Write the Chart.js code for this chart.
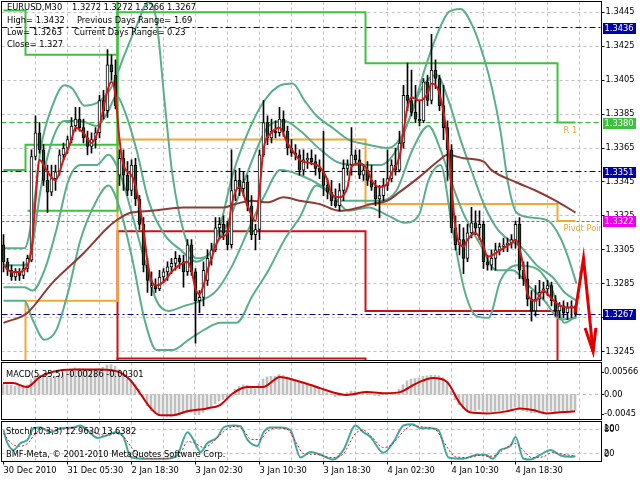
<!DOCTYPE html>
<html>
<head>
<meta charset="utf-8">
<script src="https://cdn.jsdelivr.net/npm/chart.js@4.4.0/dist/chart.umd.min.js"></script>
<style>
  html, body { margin: 0; padding: 0; background: #fff; }
  #wrap { position: relative; width: 640px; height: 480px; overflow: hidden; background: #fff; }
  #wrap canvas { position: absolute; left: 0; }
</style>
</head>
<body>
<div id="wrap">
  <canvas id="main" width="640" height="361" style="top:0px"></canvas>
  <canvas id="macd" width="640" height="58" style="top:362px"></canvas>
  <canvas id="stoch" width="640" height="59" style="top:421px"></canvas>
</div>
<script>
// EURUSD M30 candles (144 bars)
const barOpen = [
  1.3308,1.3298,1.3293,1.3289,1.3292,1.3290,1.3294,1.3299,1.3360,1.3374,
  1.3364,1.3346,1.3339,1.3347,1.3351,1.3361,1.3365,1.3370,1.3378,1.3382,
  1.3377,1.3371,1.3366,1.3370,1.3374,1.3393,1.3387,1.3414,1.3408,1.3349,
  1.3359,1.3349,1.3340,1.3355,1.3335,1.3320,1.3296,1.3283,1.3284,1.3282,
  1.3289,1.3292,1.3295,1.3297,1.3300,1.3298,1.3292,1.3308,1.3292,1.3275,
  1.3277,1.3287,1.3300,1.3305,1.3318,1.3320,1.3315,1.3308,1.3340,1.3346,
  1.3341,1.3345,1.3331,1.3314,1.3317,1.3361,1.3380,1.3371,1.3375,1.3374,
  1.3382,1.3375,1.3365,1.3362,1.3361,1.3352,1.3358,1.3359,1.3357,1.3353,
  1.3351,1.3343,1.3339,1.3334,1.3331,1.3340,1.3353,1.3355,1.3361,1.3358,
  1.3349,1.3352,1.3346,1.3342,1.3335,1.3337,1.3343,1.3347,1.3355,1.3352,
  1.3368,1.3396,1.3393,1.3386,1.3382,1.3381,1.3404,1.3393,1.3411,1.3406,
  1.3390,1.3377,1.3364,1.3318,1.3308,1.3311,1.3300,1.3315,1.3321,1.3318,
  1.3320,1.3298,1.3296,1.3300,1.3305,1.3307,1.3308,1.3309,1.3311,1.3320,
  1.3293,1.3288,1.3276,1.3269,1.3276,1.3280,1.3282,1.3284,1.3275,1.3269,
  1.3272,1.3268,1.3271,1.3272
];
const barHigh = [
  1.3314,1.3300,1.3296,1.3294,1.3294,1.3298,1.3302,1.3364,1.3384,1.3380,
  1.3367,1.3355,1.3355,1.3355,1.3364,1.3368,1.3372,1.3383,1.3389,1.3389,
  1.3382,1.3375,1.3374,1.3377,1.3396,1.3399,1.3423,1.3420,1.3417,1.3364,
  1.3364,1.3357,1.3358,1.3359,1.3337,1.3324,1.3300,1.3292,1.3288,1.3293,
  1.3294,1.3298,1.3300,1.3304,1.3302,1.3302,1.3311,1.3311,1.3294,1.3281,
  1.3298,1.3305,1.3309,1.3324,1.3324,1.3325,1.3322,1.3364,1.3352,1.3353,
  1.3351,1.3349,1.3337,1.3320,1.3364,1.3393,1.3384,1.3382,1.3381,1.3389,
  1.3387,1.3378,1.3370,1.3367,1.3364,1.3364,1.3362,1.3364,1.3361,1.3358,
  1.3375,1.3347,1.3346,1.3341,1.3344,1.3358,1.3358,1.3377,1.3364,1.3364,
  1.3355,1.3357,1.3355,1.3346,1.3343,1.3347,1.3364,1.3358,1.3365,1.3375,
  1.3402,1.3415,1.3411,1.3402,1.3393,1.3406,1.3408,1.3432,1.3417,1.3408,
  1.3402,1.3381,1.3367,1.3325,1.3320,1.3318,1.3320,1.3330,1.3328,1.3328,
  1.3322,1.3302,1.3305,1.3309,1.3309,1.3312,1.3312,1.3314,1.3322,1.3324,
  1.3298,1.3298,1.3281,1.3284,1.3287,1.3286,1.3287,1.3286,1.3278,1.3274,
  1.3275,1.3274,1.3275,1.3272
];
const barLow = [
  1.3292,1.3290,1.3287,1.3287,1.3287,1.3288,1.3292,1.3298,1.3358,1.3362,
  1.3343,1.3327,1.3337,1.3340,1.3349,1.3358,1.3362,1.3368,1.3375,1.3375,
  1.3368,1.3361,1.3362,1.3365,1.3371,1.3382,1.3383,1.3405,1.3388,1.3343,
  1.3340,1.3337,1.3337,1.3331,1.3317,1.3292,1.3280,1.3278,1.3280,1.3281,
  1.3286,1.3287,1.3291,1.3293,1.3294,1.3283,1.3290,1.3290,1.3250,1.3268,
  1.3272,1.3284,1.3296,1.3304,1.3312,1.3311,1.3305,1.3306,1.3334,1.3337,
  1.3337,1.3328,1.3311,1.3305,1.3311,1.3360,1.3367,1.3368,1.3371,1.3372,
  1.3372,1.3361,1.3360,1.3358,1.3349,1.3349,1.3353,1.3355,1.3349,1.3347,
  1.3337,1.3335,1.3331,1.3330,1.3328,1.3334,1.3349,1.3349,1.3355,1.3347,
  1.3346,1.3343,1.3340,1.3331,1.3324,1.3334,1.3340,1.3345,1.3349,1.3351,
  1.3365,1.3387,1.3384,1.3380,1.3378,1.3380,1.3390,1.3391,1.3400,1.3387,
  1.3370,1.3346,1.3315,1.3305,1.3302,1.3291,1.3298,1.3312,1.3314,1.3311,
  1.3294,1.3293,1.3293,1.3293,1.3302,1.3304,1.3304,1.3306,1.3306,1.3288,
  1.3284,1.3272,1.3263,1.3266,1.3272,1.3276,1.3278,1.3272,1.3266,1.3265,
  1.3265,1.3264,1.3265,1.3266
];
const barClose = [
  1.3298,1.3293,1.3289,1.3292,1.3290,1.3294,1.3300,1.3360,1.3374,1.3364,
  1.3346,1.3339,1.3347,1.3351,1.3361,1.3365,1.3370,1.3378,1.3382,1.3377,
  1.3371,1.3366,1.3370,1.3374,1.3393,1.3387,1.3414,1.3410,1.3390,1.3359,
  1.3349,1.3340,1.3355,1.3335,1.3320,1.3296,1.3287,1.3284,1.3282,1.3289,
  1.3292,1.3295,1.3297,1.3300,1.3298,1.3292,1.3308,1.3292,1.3275,1.3277,
  1.3293,1.3300,1.3305,1.3318,1.3320,1.3315,1.3308,1.3340,1.3346,1.3341,
  1.3345,1.3331,1.3314,1.3317,1.3361,1.3380,1.3371,1.3375,1.3374,1.3382,
  1.3375,1.3365,1.3362,1.3361,1.3352,1.3358,1.3359,1.3357,1.3353,1.3351,
  1.3343,1.3339,1.3334,1.3331,1.3340,1.3353,1.3355,1.3361,1.3358,1.3349,
  1.3352,1.3346,1.3342,1.3335,1.3337,1.3343,1.3347,1.3355,1.3352,1.3368,
  1.3396,1.3393,1.3386,1.3382,1.3381,1.3404,1.3393,1.3411,1.3406,1.3390,
  1.3377,1.3364,1.3318,1.3308,1.3311,1.3300,1.3315,1.3321,1.3318,1.3320,
  1.3298,1.3296,1.3300,1.3305,1.3307,1.3308,1.3309,1.3311,1.3320,1.3293,
  1.3288,1.3276,1.3269,1.3276,1.3280,1.3282,1.3284,1.3275,1.3269,1.3272,
  1.3268,1.3271,1.3272,1.3267
];
const slotCount = 150; // 144 bars + empty shift on the right

const priceTicks = [1.3245, 1.3265, 1.3285, 1.3305, 1.3325, 1.3345, 1.3365, 1.3385, 1.3405, 1.3425, 1.3445];
const timeLabels = ['30 Dec 2010', '31 Dec 05:30', '2 Jan 18:30', '3 Jan 02:30', '3 Jan 10:30',
                    '3 Jan 18:30', '4 Jan 02:30', '4 Jan 10:30', '4 Jan 18:30'];
const timeLabelBars = [0, 16, 32, 48, 64, 80, 96, 112, 128];

// moving averages, [bar, price]
const maFast = [[0,1.3296],[2,1.3292],[4,1.3292],[6,1.3296],[7,1.3305],[8,1.3334],[9,1.3358],[11,1.3351],[13,1.3346],
  [15,1.3358],[17,1.3370],[18,1.3377],[20,1.3374],[22,1.3368],[24,1.3378],[26,1.3399],[27,1.3404],[28,1.3396],
  [29,1.3370],[30,1.3355],[32,1.3349],[33,1.3343],[34,1.3331],[35,1.3317],[36,1.3298],[37,1.3287],[38,1.3284],
  [40,1.3286],[42,1.3292],[44,1.3296],[46,1.3298],[47,1.3293],[48,1.3282],[49,1.3279],[50,1.3284],[51,1.3293],
  [52,1.3300],[54,1.3312],[56,1.3315],[57,1.3331],[59,1.3342],[61,1.3331],[63,1.3322],[64,1.3340],[65,1.3364],
  [67,1.3374],[69,1.3377],[71,1.3368],[73,1.3361],[74,1.3358],[77,1.3356],[79,1.3354],[81,1.3346],[82,1.3338],
  [84,1.3336],[86,1.3342],[87,1.3354],[89,1.3356],[91,1.3352],[92,1.3346],[94,1.3342],[96,1.3344],[97,1.3350],
  [99,1.3360],[101,1.3389],[102,1.3395],[104,1.3393],[106,1.3397],[107,1.3403],[109,1.3397],[111,1.3370],
  [113,1.3318],[115,1.3307],[116,1.3311],[118,1.3315],[120,1.3307],[121,1.3301],[123,1.3303],[125,1.3306],
  [127,1.3309],[128,1.3311],[130,1.3295],[131,1.3279],[133,1.3275],[135,1.3281],[136,1.3279],[138,1.3274],
  [141,1.3271],[143,1.3271]];
const maSlow = [[0,1.3262],[6,1.3268],[12,1.3285],[20,1.3303],[26,1.3318],[28,1.3322],[32,1.3327],[37,1.3328],
  [45,1.3330],[55,1.3330],[58,1.3332],[62,1.3334],[66,1.3333],[70,1.3336],[74,1.3334],[79,1.3332],[84,1.3328],
  [89,1.3330],[92,1.3332],[96,1.3334],[99,1.3339],[104,1.3348],[109,1.3358],[111,1.3361],[115,1.3359],
  [120,1.3357],[122,1.3352],[128,1.3345],[133,1.3340],[138,1.3334],[143,1.3327]];

// bands, [bar, price]
const bandUpWide = [[0,1.3306],[5.25,1.3306],[7.25,1.3325],[9.25,1.3364],[12.25,1.3390],[15.25,1.3402],[17.25,1.3400],
  [20.25,1.3390],[24.25,1.3393],[27.25,1.3402],[30.25,1.3420],[33.25,1.3437],[36.25,1.3451],[38.25,1.3440],
  [40.25,1.3393],[42.25,1.3349],[45.25,1.3314],[48.25,1.3300],[51.25,1.3302],[54.25,1.3320],[57.25,1.3349],
  [61.25,1.3375],[65.25,1.3393],[69.25,1.3402],[72.25,1.3403],[75.25,1.3393],[78.25,1.3384],[82.25,1.3377],
  [86.25,1.3370],[91.25,1.3367],[96.25,1.3365],[99.25,1.3371],[102.25,1.3387],[105.25,1.3411],[108.25,1.3431],
  [111.25,1.3445],[114.25,1.3447],[117.25,1.3437],[120.25,1.3417],[122.25,1.3399],[124.25,1.3375],[126.25,1.3343],
  [128.25,1.3327],[132.25,1.3324],[136.25,1.3322],[139.25,1.3312],[141.25,1.3300],[143.25,1.3285]];
const bandUpNarrow = [[0,1.3296],[5.25,1.3296],[7.25,1.3308],[9.25,1.3340],[12.25,1.3370],[15.25,1.3381],[19.25,1.3381],
  [23.25,1.3378],[26.25,1.3387],[28.25,1.3396],[30.25,1.3387],[33.25,1.3364],[36.25,1.3334],[40.25,1.3314],
  [44.25,1.3305],[48.25,1.3298],[52.25,1.3305],[56.25,1.3322],[60.25,1.3346],[63.25,1.3364],[66.25,1.3378],
  [70.25,1.3381],[74.25,1.3375],[79.25,1.3364],[84.25,1.3356],[89.25,1.3355],[94.25,1.3355],[98.25,1.3364],
  [101.25,1.3381],[104.25,1.3399],[108.25,1.3408],[111.25,1.3393],[114.25,1.3370],[117.25,1.3350],[120.25,1.3331],
  [123.25,1.3318],[126.25,1.3311],[129.25,1.3307],[133.25,1.3296],[137.25,1.3289],[140.25,1.3280],[143.25,1.3275]];
const bandLowNarrow = [[0,1.3283],[5.25,1.3283],[7.25,1.3281],[10.25,1.3293],[13.25,1.3317],[16.25,1.3346],
  [19.25,1.3355],[23.25,1.3355],[26.25,1.3361],[29.25,1.3349],[32.25,1.3325],[35.25,1.3299],[38.25,1.3275],
  [41.25,1.3269],[45.25,1.3272],[49.25,1.3275],[53.25,1.3281],[57.25,1.3296],[61.25,1.3317],[65.25,1.3337],
  [69.25,1.3352],[74.25,1.3349],[79.25,1.3343],[84.25,1.3334],[89.25,1.3334],[94.25,1.3334],[98.25,1.3340],
  [102.25,1.3364],[106.25,1.3378],[109.25,1.3364],[112.25,1.3343],[115.25,1.3325],[119.25,1.3308],[123.25,1.3293],
  [127.25,1.3293],[131.25,1.3284],[135.25,1.3275],[139.25,1.3264],[143.25,1.3265]];
const bandLowWide = [[0,1.3275],[5.25,1.3275],[7.25,1.3264],[10.25,1.3252],[13.25,1.3258],[16.25,1.3281],
  [19.25,1.3311],[23.25,1.3334],[26.25,1.3343],[29.25,1.3328],[32.25,1.3299],[35.25,1.3264],[38.25,1.3246],
  [42.25,1.3246],[46.25,1.3252],[50.25,1.3258],[54.25,1.3262],[58.25,1.3262],[62.25,1.3278],[66.25,1.3293],
  [70.25,1.3311],[74.25,1.3325],[78.25,1.3343],[82.25,1.3337],[86.25,1.3328],[91.25,1.3330],[96.25,1.3325],
  [100.25,1.3321],[103.75,1.3325],[106.25,1.3346],[109.25,1.3355],[112.25,1.3317],[115.25,1.3281],[118.25,1.3266],
  [121.25,1.3265],[124.25,1.3287],[128.25,1.3296],[133.25,1.3294],[137.25,1.3281],[140.25,1.3262],[143.25,1.3266]];

// daily pivot levels (first bar of each day, one value per day)
const dayStart = [0, 6, 29, 91, 139];
const greenA = [1.3446, 1.3420, 1.3445, 1.3415, 1.3380];
const greenB = [1.3352, 1.3367, 1.3480, 1.3480, 1.3480];
const greenC = [null, 1.3328, 1.3480, 1.3480, 1.3480];
const pivotLevel = [1.3230, 1.3275, 1.3370, 1.3332, 1.3322];
const redS1 = [1.3230, 1.3230, 1.3316, 1.3269, 1.3230];
const redS2 = [null, 1.3200, 1.3241, 1.3200, 1.3200];

// horizontal price lines with tags on the axis
const priceLines = [1.3436, 1.3380, 1.3351, 1.3322, 1.3267];

// hand drawn arrow, [bar, price]
const arrowPath = [[142.9, 1.3268], [145.0, 1.3300], [147.4, 1.3245]];
const arrowHead = [[145.4, 1.3259], [147.4, 1.3245], [148.1, 1.3259]];

// MACD(5,35,5)
const macdHist = [
  0.0018,0.0017,0.0016,0.0014,0.0015,0.0016,0.0017,
  0.0026,0.0032,0.0035,0.0033,0.0031,0.0030,0.0031,
  0.0034,0.0038,0.0041,0.0044,0.0047,0.0046,0.0045,
  0.0044,0.0043,0.0044,0.0046,0.0048,0.0052,0.0053,0.0050,
  0.0044,0.0036,0.0030,0.0024,0.0018,0.0009,-0.0006,-0.0020,
  -0.0029,-0.0034,-0.0037,-0.0039,-0.0040,-0.0040,-0.0038,-0.0036,
  -0.0035,-0.0032,-0.0032,-0.0036,-0.0036,-0.0032,-0.0027,-0.0023,
  -0.0017,-0.0012,-0.0009,-0.0007,0.0001,0.0009,0.0014,0.0017,
  0.0016,0.0012,0.0010,0.0019,0.0027,0.0031,0.0032,0.0032,
  0.0035,0.0034,0.0031,0.0028,0.0024,0.0022,0.0019,0.0018,
  0.0016,0.0013,0.0010,0.0007,0.0003,-0.0001,-0.0004,-0.0003,
  0.0001,0.0003,0.0006,0.0006,0.0004,0.0003,0.0002,0.0001,
  -0.0002,-0.0003,-0.0001,0.0001,0.0003,0.0004,0.0009,0.0017,
  0.0024,0.0027,0.0028,0.0029,0.0032,0.0033,0.0034,0.0034,
  0.0033,0.0030,0.0022,0.0006,-0.0010,-0.0019,-0.0026,-0.0029,
  -0.0029,-0.0029,-0.0027,-0.0030,-0.0031,-0.0031,-0.0030,-0.0029,
  -0.0028,-0.0027,-0.0025,-0.0023,-0.0026,-0.0029,-0.0031,-0.0033,
  -0.0033,-0.0032,-0.0031,-0.0030,-0.0030,-0.0031,-0.0030,-0.0029,-0.0029,-0.0029,-0.00286
];
const macdSignal = [[0,0.0020],[2.5,0.0020],[6,0.0013],[9.25,0.0031],[12.5,0.0040],[17.5,0.0044],[24.25,0.0044],
  [29.25,0.0039],[31.75,0.0026],[34.25,0.0002],[36.75,-0.0023],[39.25,-0.0037],[42.5,-0.0037],[46,-0.0030],
  [51,-0.0025],[54.25,-0.0019],[57.5,0.0002],[61,0.0013],[65,0.0013],[69.25,0.0031],[72.5,0.0026],[76.75,0.0017],
  [79.25,0.0011],[86,-0.0001],[91,0.0004],[96,0.0002],[99.25,0.0004],[103.5,0.0020],[107.5,0.0029],[111,0.0022],
  [114.25,-0.0016],[116.75,-0.0032],[121,-0.0034],[126,-0.0030],[129.25,-0.0025],[132.5,-0.0028],[136,-0.0034],
  [139.25,-0.0032],[143,-0.00301]];
const macdLabels = [0.00566, 0, -0.0045];

// Stochastic(10,3,3)
const stochMain = [[0,78],[1,46],[2.5,29],[4.25,46],[6,54],[7.5,83],[9.25,85],[11.75,73],[14.25,83],[17.5,85],
  [19.25,90],[21,78],[23.5,59],[26,66],[28,73],[30,61],[31.75,12],[34.25,7],[37.5,7],[41,7],[43.5,17],[46,73],
  [47.5,54],[49.25,24],[51,46],[53.5,61],[55,85],[57.5,90],[59.25,88],[61,54],[63.5,39],[65,73],[66.75,85],
  [69.25,85],[71.75,78],[74.25,10],[76.75,24],[79.25,17],[82.5,5],[85,29],[88,90],[90,73],[91.75,61],[95,22],
  [97.5,49],[100,90],[102.25,93],[104.25,83],[106.75,83],[108.75,78],[111.25,10],[115,7],[118.5,17],[120.5,17],
  [122.25,7],[124.25,29],[126.75,39],[128,61],[130,7],[131.75,5],[134.25,17],[136.75,29],[139.25,15],[141.75,12],
  [143,12.963]];
const stochSignal = [[0,70],[2,45],[4,38],[6,45],[8,70],[10,82],[12,78],[14,80],[17,83],[19,86],[21,80],[24,68],
  [26,65],[28,70],[30,62],[32,35],[34,12],[38,7],[42,9],[44,15],[46,50],[48,45],[50,35],[52,45],[54,65],[56,82],
  [58,88],[60,78],[62,55],[64,55],[66,75],[68,84],[71,80],[73,50],[75,20],[78,18],[82,10],[85,20],[88,70],[90,78],
  [92,62],[95,35],[97,42],[100,75],[102,90],[105,86],[108,80],[110,50],[113,12],[116,10],[119,15],[121,13],[123,15],
  [125,30],[128,45],[130,28],[132,10],[135,12],[137,22],[140,18],[143,13.6382]];
const stochLabels = [100, 80, 20, 0];

// ---------- helpers ----------
const FONT_FAMILY = 'DejaVu Sans';
const FONT_SIZE = 8.3;
const FONT = FONT_SIZE + "px '" + FONT_FAMILY + "'";
Chart.defaults.font.family = FONT_FAMILY;
Chart.defaults.font.size = FONT_SIZE;
Chart.defaults.color = '#000';

const slots = Array.from({length: slotCount}, (_, i) => i);
const barIdx = barClose.map((_, i) => i);
const pts = pairs => pairs.map(p => ({x: p[0], y: p[1]}));
const byDay = levels => barIdx.map(i => {
  let d = 0;
  while (d + 1 < dayStart.length && i >= dayStart[d + 1]) d++;
  return levels[d];
});
const crisp = v => Math.floor(v) + 0.5;

function hLine(ctx, area, y, color, dash, width) {
  ctx.save();
  ctx.strokeStyle = color;
  ctx.lineWidth = width || 1;
  ctx.setLineDash(dash || []);
  ctx.beginPath();
  ctx.moveTo(area.left, crisp(y));
  ctx.lineTo(area.right, crisp(y));
  ctx.stroke();
  ctx.restore();
}
function vGrid(chart, xs) {
  const a = chart.chartArea, ctx = chart.ctx;
  ctx.save();
  ctx.strokeStyle = '#c0c0c0';
  ctx.lineWidth = 1;
  ctx.setLineDash([3, 3]);
  for (let b = 8; b <= 144; b += 8) {
    const x = crisp(xs.getPixelForValue(b));
    ctx.beginPath(); ctx.moveTo(x, a.top); ctx.lineTo(x, a.bottom); ctx.stroke();
  }
  ctx.restore();
}
function frame(chart) {
  const a = chart.chartArea, ctx = chart.ctx;
  ctx.save();
  ctx.strokeStyle = '#000';
  ctx.lineWidth = 1;
  ctx.strokeRect(1.5, crisp(a.top), 600, Math.floor(a.bottom) - Math.floor(a.top));
  ctx.restore();
}
function text(ctx, s, x, y, color) {
  ctx.save();
  ctx.font = FONT;
  ctx.fillStyle = color || '#000';
  ctx.textBaseline = 'middle';
  ctx.textAlign = 'left';
  ctx.fillText(s, x, y);
  ctx.restore();
}
const rightAxis = width => ({
  position: 'right',
  afterFit: s => { s.width = width; s.paddingTop = 0; s.paddingBottom = 0; }
});
const hiddenX = () => ({type: 'linear', display: false, min: -0.5, max: slotCount - 0.5, offset: false});

const stepLine = (levels, color, order) => ({
  type: 'line', xAxisID: 'x', data: byDay(levels), borderColor: color, borderWidth: 2,
  stepped: 'middle', pointRadius: 0, fill: false, order: order, spanGaps: false
});
const curve = (pairs, color, order, width) => ({
  type: 'line', xAxisID: 'xl', data: pts(pairs), borderColor: color, borderWidth: width || 2,
  pointRadius: 0, fill: false, order: order, cubicInterpolationMode: 'monotone'
});
const polyline = (pairs, color, order, width) => ({
  type: 'line', xAxisID: 'xl', data: pts(pairs), borderColor: color, borderWidth: width,
  pointRadius: 0, fill: false, order: order, tension: 0, borderJoinStyle: 'miter'
});

// ---------- main price pane ----------
const lineStyle = [
  {color: '#000080', dash: [6, 3, 2, 3], tag: '#0000a8'},
  {color: '#33b833', dash: [5, 3], tag: '#40c040'},
  {color: '#000080', dash: [6, 3, 2, 3], tag: '#0000a8'},
  {color: '#d030d0', dash: [3, 2], tag: '#ee00ee'},
  {color: '#000080', dash: [6, 3, 2, 3], tag: '#0000a8'}
];

const mainPlugin = {
  id: 'mainDecor',
  beforeDatasetsDraw(chart) {
    const a = chart.chartArea, ctx = chart.ctx, y = chart.scales.y;
    priceTicks.forEach(v => hLine(ctx, a, y.getPixelForValue(v), '#c0c0c0', [3, 3]));
    vGrid(chart, chart.scales.xl);
    priceLines.forEach((v, k) => hLine(ctx, a, y.getPixelForValue(v), lineStyle[k].color, lineStyle[k].dash));
  },
  afterDatasetsDraw(chart) {
    const a = chart.chartArea, ctx = chart.ctx, y = chart.scales.y, xl = chart.scales.xl;
    ctx.save();
    ctx.beginPath(); ctx.rect(a.left, a.top, a.right - a.left, a.bottom - a.top); ctx.clip();
    const lx = xl.getPixelForValue(140);
    text(ctx, 'R 1', lx, y.getPixelForValue(greenA[4]) + 8, '#e8a838');
    text(ctx, 'Pivot Point', lx, y.getPixelForValue(pivotLevel[4]) + 8, '#e8a838');
    ctx.restore();
    text(ctx, 'EURUSD,M30', 7, 8);
    text(ctx, '1.3272 1.3272 1.3266 1.3267', 72, 8);
    text(ctx, 'High= 1.3432', 7, 20.5);
    text(ctx, 'Previous Days Range= 1.69', 77, 20.5);
    text(ctx, 'Low= 1.3263', 7, 33);
    text(ctx, 'Current Days Range= 0.23', 74, 33);
    text(ctx, 'Close= 1.327', 7, 44.5);
    frame(chart);
  },
  afterDraw(chart) {
    const ctx = chart.ctx, y = chart.scales.y;
    priceLines.forEach((v, k) => {
      const py = Math.round(y.getPixelForValue(v));
      ctx.save();
      ctx.fillStyle = lineStyle[k].tag;
      ctx.fillRect(603, py - 5, 33, 11);
      ctx.restore();
      text(ctx, v.toFixed(4), 604.5, py + 0.5, '#fff');
    });
  }
};

new Chart(document.getElementById('main'), {
  type: 'bar',
  data: {
    labels: slots,
    datasets: [
      polyline(arrowPath, '#e00000', 0, 3),
      polyline(arrowHead, '#e00000', 0, 3),
      curve(maFast, '#d01818', 2),
      {
        type: 'bar', xAxisID: 'x', data: barOpen.map((o, i) => [o, barClose[i]]),
        backgroundColor: barClose.map((c, i) => c >= barOpen[i] ? '#ffffff' : '#1f4a22'),
        borderColor: '#000', borderWidth: 1, borderSkipped: false,
        barThickness: 3, grouped: false, order: 3
      },
      {
        type: 'bar', xAxisID: 'x', data: barLow.map((l, i) => [l, barHigh[i]]),
        backgroundColor: '#000', borderWidth: 0, barThickness: 1, grouped: false, order: 4
      },
      curve(maSlow, '#8e3a35', 5),
      curve(bandUpWide, '#5aae8c', 6),
      curve(bandUpNarrow, '#5aae8c', 6),
      curve(bandLowNarrow, '#5aae8c', 6),
      curve(bandLowWide, '#5aae8c', 6),
      stepLine(greenA, '#40c040', 7),
      stepLine(greenB, '#40c040', 7),
      stepLine(greenC, '#40c040', 7),
      stepLine(pivotLevel, '#eeaa33', 7),
      stepLine(redS1, '#cc1111', 7),
      stepLine(redS2, '#cc1111', 7)
    ]
  },
  options: {
    responsive: false,
    animation: false,
    events: [],
    layout: {padding: {left: 1.5, top: 1.5, right: 0, bottom: 0.5}},
    plugins: {legend: {display: false}, tooltip: {enabled: false}},
    scales: {
      x: {type: 'category', display: false, offset: true},
      xl: hiddenX(),
      y: Object.assign(rightAxis(38.5), {
        min: 1.323981, max: 1.345136, bounds: 'data',
        afterBuildTicks: s => { s.ticks = priceTicks.map(v => ({value: v})); },
        ticks: {callback: v => Number(v).toFixed(4), padding: 1, color: '#000', font: {size: FONT_SIZE}},
        grid: {display: true, drawOnChartArea: false, drawTicks: true, tickLength: 3, color: '#000'},
        border: {display: true, color: '#000'}
      })
    }
  },
  plugins: [mainPlugin]
});

// ---------- MACD pane ----------
const macdPlugin = {
  id: 'macdDecor',
  beforeDatasetsDraw(chart) {
    hLine(chart.ctx, chart.chartArea, chart.scales.y.getPixelForValue(0), '#c0c0c0', [3, 3]);
    vGrid(chart, chart.scales.xl);
  },
  afterDraw(chart) {
    const a = chart.chartArea, ctx = chart.ctx, y = chart.scales.y;
    frame(chart);
    text(ctx, 'MACD(5,35,5) -0.00286 -0.00301', 6, 13);
    macdLabels.forEach(v => {
      const py = Math.min(Math.max(y.getPixelForValue(v), a.top + 9), a.bottom - 6);
      ctx.save(); ctx.fillStyle = '#000'; ctx.fillRect(601, Math.round(py), 3, 1); ctx.restore();
      text(ctx, v === 0 ? '0.00' : String(v), 604, py);
    });
  }
};

new Chart(document.getElementById('macd'), {
  type: 'bar',
  data: {
    labels: slots,
    datasets: [
      curve(macdSignal, '#d00000', 0),
      {type: 'bar', xAxisID: 'x', data: macdHist, backgroundColor: '#c0c0c0', barThickness: 2,
       grouped: false, order: 1}
    ]
  },
  options: {
    responsive: false,
    animation: false,
    events: [],
    layout: {padding: {left: 1, top: 0.5, right: 0, bottom: 0.5}},
    plugins: {legend: {display: false}, tooltip: {enabled: false}},
    scales: {
      x: {type: 'category', display: false, offset: true},
      xl: hiddenX(),
      y: Object.assign(rightAxis(39), {
        min: -0.00447, max: 0.00566,
        ticks: {display: false},
        grid: {display: false},
        border: {display: true, color: '#000'}
      })
    }
  },
  plugins: [macdPlugin]
});

// ---------- Stochastic pane ----------
const stochPlugin = {
  id: 'stochDecor',
  beforeDatasetsDraw(chart) {
    const a = chart.chartArea, y = chart.scales.y;
    hLine(chart.ctx, a, y.getPixelForValue(80), '#c0c0c0', [3, 3]);
    hLine(chart.ctx, a, y.getPixelForValue(20), '#c0c0c0', [3, 3]);
    vGrid(chart, chart.scales.xl);
  },
  afterDraw(chart) {
    const a = chart.chartArea, ctx = chart.ctx, y = chart.scales.y;
    frame(chart);
    text(ctx, 'Stoch(10,3,3) 12.9630 13.6382', 6, 11);
    text(ctx, 'BMF-Meta, \u00a9 2001-2010 MetaQuotes Software Corp.', 6, 34);
    stochLabels.forEach(v => {
      const py = Math.min(Math.max(y.getPixelForValue(v), a.top + 7.5), a.bottom - 6.5);
      text(ctx, String(v), 604, py);
    });
  }
};

new Chart(document.getElementById('stoch'), {
  type: 'line',
  data: {
    labels: slots.map(i => {
      const k = timeLabelBars.indexOf(i);
      return k >= 0 ? timeLabels[k] : '';
    }),
    datasets: [
      curve(stochMain, '#40a8a0', 1),
      Object.assign(curve(stochSignal, '#d02020', 0, 1), {borderDash: [2, 2]})
    ]
  },
  options: {
    responsive: false,
    animation: false,
    events: [],
    layout: {padding: {left: 1.5, top: 0.5, right: 0, bottom: 0}},
    plugins: {legend: {display: false}, tooltip: {enabled: false}},
    scales: {
      x: {
        type: 'category', position: 'bottom', offset: true,
        afterFit: s => { s.height = 18.5; s.paddingLeft = 0; s.paddingRight = 0; },
        ticks: {autoSkip: false, maxRotation: 0, minRotation: 0, align: 'start', padding: 1,
                color: '#000', font: {size: FONT_SIZE}},
        grid: {display: true, offset: false, drawOnChartArea: false, drawTicks: true, tickLength: 3,
               color: c => timeLabelBars.indexOf(c.index) >= 0 ? '#000' : 'rgba(0,0,0,0)'},
        border: {display: false}
      },
      xl: hiddenX(),
      y: Object.assign(rightAxis(38.5), {
        min: 0, max: 100,
        ticks: {display: false},
        grid: {display: false},
        border: {display: true, color: '#000'}
      })
    }
  },
  plugins: [stochPlugin]
});
</script>
</body>
</html>
